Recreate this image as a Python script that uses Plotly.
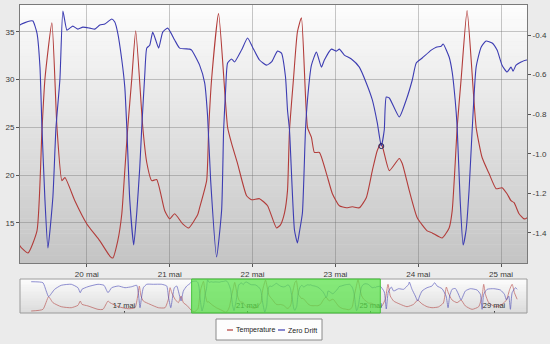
import numpy as np
import pandas as pd
import plotly.graph_objects as go

# ---------------- data (day of May 2011, value) ----------------
TEMP_DAY = [
    13.99, 14.37, 14.555, 14.695, 14.964, 15.289, 15.506, 15.581, 15.636, 15.831,
    16.156, 16.318, 16.481, 16.545, 16.815, 17.140, 17.357, 17.445, 17.497, 17.552,
    17.627, 17.844, 18.114, 18.331, 18.438, 18.494, 18.549, 18.656, 18.763, 18.851,
    18.925, 19.036, 19.143,
    19.193, 19.289, 19.398, 19.458, 19.494, 19.578, 19.639, 19.699, 19.735, 19.855,
    20.000, 20.157, 20.277, 20.313, 20.373, 20.422, 20.458, 20.494, 20.542, 20.590,
    20.675, 20.723, 20.783, 20.843, 20.940, 21.000, 21.060, 21.157, 21.229, 21.337,
    21.361, 21.446, 21.470, 21.506, 21.590, 21.699, 21.747, 21.819, 21.928, 21.988,
    22.084, 22.181, 22.289, 22.337, 22.386, 22.422, 22.446, 22.494, 22.542, 22.590,
    22.663, 22.711, 22.747, 22.807, 22.892, 22.964, 23.048, 23.133, 23.205, 23.289,
    23.373, 23.446, 23.506, 23.554, 23.651, 23.771, 23.807, 23.892, 23.988, 24.108,
    24.169, 24.289, 24.373, 24.410, 24.446, 24.470, 24.518, 24.590, 24.699, 24.771,
    24.855, 24.940, 25.012, 25.072, 25.120, 25.157, 25.217, 25.277, 25.313,
    25.367, 25.474, 25.562, 25.636, 25.744, 25.961, 26.179, 26.393, 26.523, 26.666,
    26.828, 26.990, 27.195, 27.357, 27.455, 27.519, 27.640, 27.802, 27.932, 28.071,
    28.289, 28.503, 28.614, 28.666, 28.721, 28.828, 29.045, 29.263, 29.403, 29.510,
    29.588, 29.662, 29.750,
]
TEMP_VAL = [
    12.4, 13.7, 23.7, 19.0, 15.8, 15.0, 16.9, 20.3, 17.7, 16.4,
    13.7, 13.7, 20.3, 19.0, 15.8, 14.2, 15.0, 24.3, 32.2, 24.3,
    20.3, 17.7, 15.0, 15.0, 21.7, 30.9, 26.9, 21.7, 19.0, 24.3,
    19.0, 16.9, 14.0,
    12.58, 11.84, 14.16, 24.68, 30.05, 35.95, 25.0, 19.42, 19.74, 17.32,
    14.89, 13.11, 11.53, 11.32, 13.11, 15.95, 20.47, 25.0, 30.05, 35.1,
    25.0, 21.32, 19.42, 19.53, 16.26, 15.42, 15.95, 14.89, 14.47, 15.84,
    16.58, 19.42, 24.68, 30.05, 36.9, 25.0, 23.32, 21.21, 17.84, 17.42,
    17.53, 16.79, 14.47, 14.79, 16.05, 18.37, 24.68, 30.05, 35.0, 36.47,
    25.0, 23.95, 22.37, 22.37, 20.16, 18.05, 16.79, 16.58, 16.68, 16.58,
    17.63, 20.47, 22.58, 23.32, 20.47, 21.74, 21.21, 18.37, 15.53, 14.16,
    13.95, 13.42, 14.47, 16.26, 21.21, 25.0, 30.05, 37.21, 25.0, 21.84,
    20.16, 18.58, 18.68, 18.05, 17.32, 17.11, 15.95, 15.42, 15.53,
    16.4, 21.7, 33.6, 24.3, 20.3, 17.7, 15.8, 17.7, 21.0, 18.0,
    15.8, 15.0, 15.6, 18.7, 31.4, 26.7, 21.1, 19.0, 21.1, 16.4,
    13.7, 15.8, 24.3, 33.6, 25.7, 19.0, 15.8, 17.7, 21.1, 29.6,
    33.6, 26.9, 21.7,
]

DRIFT_DAY = [
    13.990, 14.370, 14.477, 14.555, 14.750, 14.964, 15.289, 15.506, 15.581, 15.636,
    15.831, 16.156, 16.351, 16.481, 16.601, 16.815, 17.032, 17.250, 17.412, 17.464,
    17.519, 17.575, 17.627, 17.737, 17.951, 18.224, 18.386, 18.438, 18.516, 18.581,
    18.633, 18.711, 18.763, 18.851, 18.925, 19.036, 19.143,
    19.193, 19.313, 19.349, 19.398, 19.434, 19.458, 19.494, 19.530, 19.590, 19.627,
    19.675, 19.711, 19.759, 19.795, 19.831, 19.892, 19.952, 20.036, 20.096, 20.157,
    20.217, 20.301, 20.337, 20.373, 20.422, 20.458, 20.482, 20.518, 20.566, 20.602,
    20.639, 20.663, 20.699, 20.723, 20.759, 20.795, 20.831, 20.867, 20.916, 20.976,
    21.060, 21.120, 21.241, 21.265, 21.361, 21.422, 21.458, 21.494, 21.566, 21.627,
    21.651, 21.675, 21.699, 21.747, 21.783, 21.867, 21.940, 22.000, 22.084, 22.169,
    22.229, 22.301, 22.349, 22.398, 22.422, 22.446, 22.506, 22.542, 22.566, 22.602,
    22.639, 22.663, 22.711, 22.771, 22.831, 22.867, 22.952, 23.012, 23.048, 23.108,
    23.193, 23.289, 23.373, 23.446, 23.506, 23.554, 23.590, 23.614, 23.651, 23.771,
    23.855, 23.928, 23.976, 24.048, 24.157, 24.217, 24.277, 24.301, 24.373, 24.410,
    24.446, 24.470, 24.506, 24.542, 24.578, 24.614, 24.651, 24.699, 24.759, 24.819,
    24.892, 24.952, 25.012, 25.072, 25.120, 25.145, 25.181, 25.241, 25.313,
    25.442, 25.506, 25.571, 25.669, 25.744, 25.906, 26.068, 26.231, 26.253, 26.341,
    26.448, 26.523, 26.588, 26.666, 26.828, 26.990, 27.075, 27.153, 27.315, 27.445,
    27.510, 27.562, 27.640, 27.747, 27.844, 27.932, 28.071, 28.234, 28.451, 28.558,
    28.614, 28.666, 28.776, 28.990, 29.208, 29.338, 29.403, 29.477, 29.532, 29.588,
    29.695, 29.750,
]
DRIFT_VAL = [
    -0.352, -0.390, -0.708, -0.927, -0.643, -0.490, -0.451, -0.582, -0.774, -0.643,
    -0.543, -0.451, -0.490, -0.774, -0.582, -0.517, -0.582, -0.543, -0.490, -0.774,
    -1.349, -0.900, -0.582, -0.451, -0.451, -0.451, -0.517, -0.900, -1.349, -0.900,
    -0.582, -0.517, -0.708, -1.092, -0.708, -0.517, -0.420,
    -0.349, -0.329, -0.329, -0.390, -0.562, -0.865, -1.233, -1.476, -1.218, -0.870,
    -0.622, -0.279, -0.375, -0.365, -0.355, -0.370, -0.360, -0.365, -0.370, -0.349,
    -0.344, -0.319, -0.334, -0.390, -0.526, -0.663, -0.865, -1.233, -1.461, -1.299,
    -1.067, -0.865, -0.602, -0.466, -0.451, -0.385, -0.425, -0.466, -0.385, -0.365,
    -0.425, -0.466, -0.471, -0.476, -0.552, -0.642, -0.814, -1.132, -1.521, -1.284,
    -0.880, -0.678, -0.541, -0.521, -0.536, -0.476, -0.415, -0.461, -0.526, -0.552,
    -0.536, -0.481, -0.491, -0.612, -0.779, -0.880, -1.385, -1.451, -1.395, -1.299,
    -0.880, -0.728, -0.552, -0.486, -0.562, -0.526, -0.471, -0.481, -0.471, -0.501,
    -0.521, -0.562, -0.642, -0.728, -0.844, -0.961, -0.880, -0.713, -0.718, -0.814,
    -0.728, -0.627, -0.541, -0.516, -0.476, -0.461, -0.456, -0.445, -0.511, -0.587,
    -0.728, -0.865, -1.233, -1.461, -1.385, -1.183, -0.880, -0.562, -0.461, -0.430,
    -0.440, -0.476, -0.552, -0.587, -0.562, -0.582, -0.552, -0.536, -0.526,
    -0.747, -1.399, -0.747, -0.555, -0.708, -0.620, -0.643, -0.451, -0.363, -0.643,
    -0.900, -1.092, -0.900, -0.708, -0.582, -0.517, -0.390, -0.517, -0.620, -0.900,
    -1.349, -0.900, -0.643, -0.612, -0.823, -1.053, -0.708, -0.620, -0.670, -0.835,
    -1.410, -0.835, -0.643, -0.620, -0.670, -0.835, -1.053, -0.900, -1.410, -0.774,
    -0.582, -0.643,
]

MAIN_RANGE_DAYS = [19.193, 25.313]
NAV_RANGE_DAYS = [13.627, 30.07]
MAIN_TICK_DAYS = [20, 21, 22, 23, 24, 25]
NAV_TICK_DAYS = [17, 21, 25, 29]
TEMP_TICKS = [15, 20, 25, 30, 35]
DRIFT_TICKS = [-1.4, -1.2, -1.0, -0.8, -0.6, -0.4]
TEMP_RANGE = [10.8, 37.8]
DRIFT_RANGE = [-1.552, -0.248]
SERIES_NAMES = ["Temperature", "Zero Drift"]

# ---------------- helpers ----------------
BASE = pd.Timestamp("2011-05-01")


def to_time(days):
    return BASE + pd.to_timedelta(np.asarray(days, dtype=float) - 1.0, unit="D")


def day_label(d):
    return f"{int(d)} mai"


W, H = 550, 344
RED = "#b23c3a"
BLUE = "#3c3cb2"
FONT = "Liberation Sans"


def px(x):
    return x / W


def py(y):
    return 1 - y / H


main_x = [px(20), px(527)]
main_y = [py(263), py(5)]
nav_y = [py(313), py(279)]

t_temp = to_time(TEMP_DAY)
t_drift = to_time(DRIFT_DAY)

fig = go.Figure()
fig.add_trace(go.Scatter(x=t_temp, y=TEMP_VAL, name=SERIES_NAMES[0], mode="lines",
                         line=dict(color=RED, width=1.1, shape="spline", smoothing=0.5),
                         xaxis="x", yaxis="y"))
fig.add_trace(go.Scatter(x=t_drift, y=DRIFT_VAL, name=SERIES_NAMES[1], mode="lines",
                         line=dict(color=BLUE, width=1.1, shape="spline", smoothing=0.5),
                         xaxis="x", yaxis="y2"))
# small marker at the local minimum of drift near 23.5 mai
dd = np.asarray(DRIFT_DAY)
dv = np.asarray(DRIFT_VAL)
win = np.where((dd > 23.4) & (dd < 23.7))[0]
imin = win[np.argmin(dv[win])]
fig.add_trace(go.Scatter(x=[t_drift[imin]], y=[DRIFT_VAL[imin]], mode="markers",
                         marker=dict(symbol="circle-open", size=5, color="#202060", line=dict(width=1)),
                         xaxis="x", yaxis="y2", showlegend=False, hoverinfo="skip"))
# navigator
fig.add_trace(go.Scatter(x=t_temp, y=TEMP_VAL, mode="lines", showlegend=False,
                         line=dict(color=RED, width=0.8, shape="spline", smoothing=0.5),
                         opacity=0.7, xaxis="x2", yaxis="y3"))
fig.add_trace(go.Scatter(x=t_drift, y=DRIFT_VAL, mode="lines", showlegend=False,
                         line=dict(color=BLUE, width=0.8, shape="spline", smoothing=0.5),
                         opacity=0.7, xaxis="x2", yaxis="y4"))

shapes = []


def gradient(x0, x1, y0, y1, c_bot, c_top, n=70):
    out = []
    for i in range(n):
        f = (i + 0.5) / n
        c = [int(round(c_bot[k] + (c_top[k] - c_bot[k]) * f)) for k in range(3)]
        out.append(dict(type="rect", xref="paper", yref="paper", layer="below",
                        x0=x0, x1=x1, y0=y0 + (y1 - y0) * i / n, y1=y0 + (y1 - y0) * (i + 1) / n + 0.001,
                        fillcolor=f"rgb({c[0]},{c[1]},{c[2]})", line=dict(width=0)))
    return out


shapes += gradient(main_x[0], main_x[1], main_y[0], main_y[1], (196, 196, 196), (253, 253, 253))
shapes += gradient(main_x[0], main_x[1], nav_y[0], nav_y[1], (218, 218, 218), (253, 253, 253), n=20)
# navigator border
shapes.append(dict(type="rect", xref="paper", yref="paper", layer="above",
                   x0=main_x[0], x1=main_x[1], y0=nav_y[0], y1=nav_y[1],
                   line=dict(color="#9a9a9a", width=1), fillcolor="rgba(0,0,0,0)"))
# navigator selection (main range)
sel = to_time(MAIN_RANGE_DAYS)
shapes.append(dict(type="rect", xref="x2", yref="y3 domain", layer="above",
                   x0=sel[0], x1=sel[1], y0=0, y1=1,
                   fillcolor="rgba(88,226,70,0.72)", line=dict(color="rgba(60,190,50,0.9)", width=1)))
# legend (drawn)
shapes.append(dict(type="rect", xref="paper", yref="paper", x0=px(216), x1=px(322),
                   y0=py(340), y1=py(319), fillcolor="#fdfdfd", line=dict(color="#8a8a8a", width=1)))
shapes.append(dict(type="line", xref="paper", yref="paper", x0=px(227), x1=px(233),
                   y0=py(330), y1=py(330), line=dict(color=RED, width=1.2)))
shapes.append(dict(type="line", xref="paper", yref="paper", x0=px(278), x1=px(285),
                   y0=py(330), y1=py(330), line=dict(color=BLUE, width=1.2)))

annotations = [
    dict(text=SERIES_NAMES[0], x=px(234), y=py(330), xref="paper", yref="paper",
         xanchor="left", yanchor="middle", showarrow=False, font=dict(family=FONT, size=7, color="#222")),
    dict(text=SERIES_NAMES[1], x=px(286), y=py(330), xref="paper", yref="paper",
         xanchor="left", yanchor="middle", showarrow=False, font=dict(family=FONT, size=7, color="#222")),
]

tickfont = dict(family=FONT, size=8, color="#3a3a3a")
grid = "rgba(110,110,110,0.38)"

fig.update_layout(
    width=W, height=H, margin=dict(l=0, r=0, t=0, b=0),
    paper_bgcolor="#ebebeb", plot_bgcolor="rgba(0,0,0,0)",
    showlegend=False, shapes=shapes, annotations=annotations,
    font=dict(family=FONT),
    xaxis=dict(domain=main_x, anchor="y", type="date",
               range=list(to_time(MAIN_RANGE_DAYS)),
               tickmode="array", tickvals=list(to_time(MAIN_TICK_DAYS)),
               ticktext=[day_label(d) for d in MAIN_TICK_DAYS],
               showgrid=True, gridcolor=grid, gridwidth=1,
               ticks="outside", ticklen=3, tickcolor="#555",
               showline=True, linecolor="#7a7a7a", mirror=True,
               tickfont=tickfont, zeroline=False),
    yaxis=dict(domain=main_y, anchor="x", range=TEMP_RANGE,
               tickmode="array", tickvals=TEMP_TICKS, ticktext=[str(v) for v in TEMP_TICKS],
               showgrid=True, gridcolor=grid, gridwidth=1,
               ticks="outside", ticklen=3, tickcolor="#555",
               showline=True, linecolor="#7a7a7a", mirror=True,
               tickfont=tickfont, zeroline=False),
    yaxis2=dict(overlaying="y", side="right", anchor="x", range=DRIFT_RANGE,
                tickmode="array", tickvals=DRIFT_TICKS, ticktext=[f"{v:.1f}" for v in DRIFT_TICKS],
                showgrid=False, ticks="outside", ticklen=3, tickcolor="#555",
                showline=True, linecolor="#7a7a7a",
                tickfont=tickfont, zeroline=False),
    xaxis2=dict(domain=main_x, anchor="y3", type="date",
                range=list(to_time(NAV_RANGE_DAYS)),
                tickmode="array", tickvals=list(to_time(NAV_TICK_DAYS)),
                ticktext=[day_label(d) for d in NAV_TICK_DAYS],
                showgrid=False, ticks="inside", ticklen=2, tickcolor="#444",
                ticklabelposition="inside", showline=False,
                tickfont=dict(family=FONT, size=7.5, color="#333"), zeroline=False),
    yaxis3=dict(domain=nav_y, anchor="x2", range=TEMP_RANGE, visible=False),
    yaxis4=dict(overlaying="y3", anchor="x2", range=DRIFT_RANGE, visible=False),
)

fig.write_html("out.html")
